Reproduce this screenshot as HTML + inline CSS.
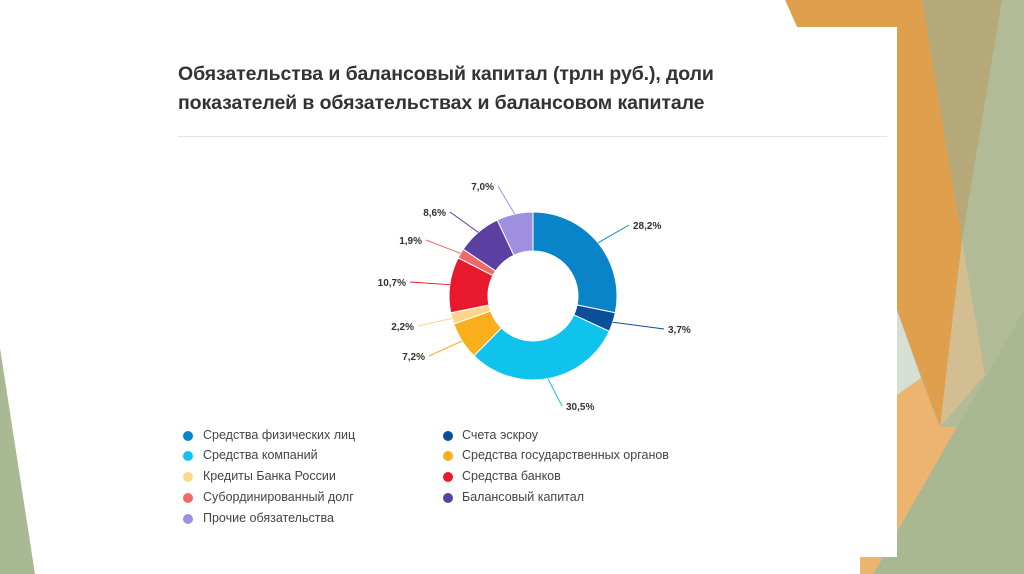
<!DOCTYPE html>
<html><head><meta charset="utf-8">
<style>
html,body{margin:0;padding:0;}
body{width:1024px;height:574px;position:relative;overflow:hidden;background:#fff;font-family:"Liberation Sans",sans-serif;}
.title{position:absolute;left:178px;top:60px;font-size:19.5px;font-weight:bold;color:#333;line-height:29px;letter-spacing:-0.1px}
.leg{position:absolute;font-size:12.5px;color:#444;}
.dot{position:absolute;width:10px;height:10px;border-radius:50%;}
</style></head><body>
<svg width="1024" height="574" style="position:absolute;left:0;top:0">
<rect x="897" y="0" width="127" height="574" fill="#b2bb97"/>
<polygon points="785,0 922,0 962,240 940,427 897,310 897,27 797,27" fill="#e09f4c"/>
<polygon points="922,0 1002,0 962,240" fill="#b5a97a"/>
<polygon points="962,240 985,375 940,427" fill="#d3be92"/>
<polygon points="897,310 921,378 897,395" fill="#d6e0d2"/>
<polygon points="897,395 921,378 940,427 957,427 873,574 860,574 860,557 897,557" fill="#ecb46e"/>
<polygon points="873,574 1024,310 1024,574" fill="#a9b893"/>
<polygon points="0,0 785,0 797,27 897,27 897,557 860,557 860,574 0,574" fill="#fff"/>
<polygon points="0,348 35,574 0,574" fill="#a9b994"/>
<line x1="178" y1="136.5" x2="887" y2="136.5" stroke="#e3e3e3" stroke-width="1"/>
<g id="pie"></g>
</svg>
<div class="title">Обязательства и балансовый капитал (трлн руб.), доли<br>показателей в обязательствах и балансовом капитале</div>

<div class="dot" style="left:183px;top:431px;background:#0a84c9"></div><div class="leg" style="left:203px;top:428px">Средства физических лиц</div>
<div class="dot" style="left:183px;top:451px;background:#10c3ec"></div><div class="leg" style="left:203px;top:448px">Средства компаний</div>
<div class="dot" style="left:183px;top:472px;background:#fdd68c"></div><div class="leg" style="left:203px;top:469px">Кредиты Банка России</div>
<div class="dot" style="left:183px;top:493px;background:#f06a6a"></div><div class="leg" style="left:203px;top:490px">Субординированный долг</div>
<div class="dot" style="left:183px;top:514px;background:#9f8fe0"></div><div class="leg" style="left:203px;top:511px">Прочие обязательства</div>
<div class="dot" style="left:443px;top:431px;background:#0b4f9a"></div><div class="leg" style="left:462px;top:428px">Счета эскроу</div>
<div class="dot" style="left:443px;top:451px;background:#f9ae1c"></div><div class="leg" style="left:462px;top:448px">Средства государственных органов</div>
<div class="dot" style="left:443px;top:472px;background:#e8192c"></div><div class="leg" style="left:462px;top:469px">Средства банков</div>
<div class="dot" style="left:443px;top:493px;background:#5b3fa3"></div><div class="leg" style="left:462px;top:490px">Балансовый капитал</div>

<script>
var d=[[28.2,"#0a84c9",633,229,"start"],[3.7,"#0b4f9a",668,333,"start"],[30.5,"#10c3ec",566,410,"start"],[7.2,"#f9ae1c",425,360,"end"],[2.2,"#fdd68c",414,330,"end"],[10.7,"#e8192c",406,286,"end"],[1.9,"#f06a6a",422,244,"end"],[8.6,"#5b3fa3",446,216,"end"],[7.0,"#9f8fe0",494,190,"end"]];
var cx=533,cy=296,R=84,r=45,a=0,s="";
function pt(rad,ang){return [cx+rad*Math.sin(ang),cy-rad*Math.cos(ang)];}
d.forEach(function(e){
 var a0=a/100*2*Math.PI;a+=e[0];var a1=a/100*2*Math.PI;var lg=(a1-a0)>Math.PI?1:0;
 var p1=pt(R,a0),p2=pt(R,a1),p3=pt(r,a1),p4=pt(r,a0);
 s+='<path d="M'+p1+' A'+R+','+R+' 0 '+lg+' 1 '+p2+' L'+p3+' A'+r+','+r+' 0 '+lg+' 0 '+p4+'Z" fill="'+e[1]+'" stroke="#fff" stroke-width="1"/>';
 var m=(a0+a1)/2,q=pt(R,m);
 var lx=e[4]=="start"?e[2]-4:e[2]+4;
 s+='<line x1="'+q[0]+'" y1="'+q[1]+'" x2="'+lx+'" y2="'+(e[3]-4)+'" stroke="'+e[1]+'" stroke-width="1"/>';
 s+='<text x="'+e[2]+'" y="'+e[3]+'" font-size="10" font-weight="bold" fill="#333" text-anchor="'+e[4]+'" font-family="Liberation Sans, sans-serif">'+String(e[0].toFixed(1)).replace(".",",")+'%</text>';
});
document.getElementById("pie").innerHTML=s;
</script>
</body></html>
